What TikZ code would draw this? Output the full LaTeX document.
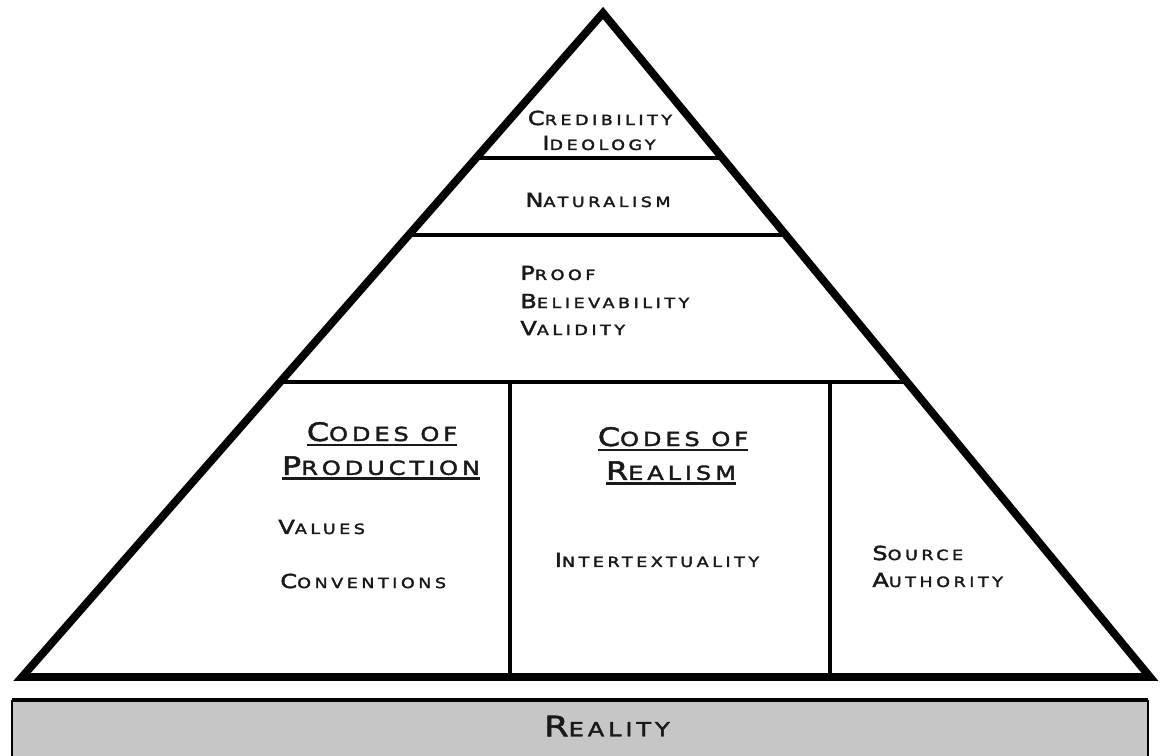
\documentclass[tikz,border=0pt]{standalone}
\usepackage{fontspec}
\usetikzlibrary{calc}
\newfontfamily\pyrfont[FakeStretch=1.25,LetterSpace=25,FakeBold=2.2]{DejaVu Sans}
\newfontfamily\headfont[FakeStretch=1.25,LetterSpace=20,FakeBold=2]{DejaVu Sans}
% small-caps style label: larger initial, smaller remainder
\newcommand\lbl[2]{{\fontsize{11}{13}\selectfont #1}{\fontsize{8}{10}\selectfont #2}}
\newcommand\hdr[2]{{\headfont{\fontsize{14.5}{17}\selectfont #1}{\fontsize{11}{13}\selectfont #2}}}
\newcommand\hdrline[1]{\setbox0\hbox{#1}\rlap{\rule[-2.8pt]{\wd0}{1.3pt}}\box0}
\definecolor{bargray}{RGB}{198,198,198}
\tikzset{
  outline/.style={line width=4.5pt, line join=miter},
  tier/.style={line width=2.8pt},
  divider/.style={line width=2.2pt},
  txt/.style={inner sep=0pt, font=\pyrfont, text=black!90},
  leftlist/.style={txt, align=left, anchor=west},
  heading/.style={txt, align=center},
}
\begin{document}
\begin{tikzpicture}[x=0.02cm, y=-0.02cm]
\useasboundingbox (0,0) rectangle (1160,755);
\fill[white] (0,0) rectangle (1160,755);

% pyramid corners
\coordinate (apex) at (603,13);
\coordinate (bl) at (22,677);
\coordinate (br) at (1150,677);

% tier boundaries on the two sides
\coordinate (l1) at ($(apex)!{(158-13)/664}!(bl)$);
\coordinate (r1) at ($(apex)!{(158-13)/664}!(br)$);
\coordinate (l2) at ($(apex)!{(235-13)/664}!(bl)$);
\coordinate (r2) at ($(apex)!{(235-13)/664}!(br)$);
\coordinate (l3) at ($(apex)!{(382-13)/664}!(bl)$);
\coordinate (r3) at ($(apex)!{(382-13)/664}!(br)$);

% column dividers in the lowest tier
\coordinate (v1t) at (510,382);
\coordinate (v1b) at (510,677);
\coordinate (v2t) at (830,382);
\coordinate (v2b) at (830,677);

% reality bar
\coordinate (barnw) at (12,700);
\coordinate (barse) at (1148,760);
\fill[bargray] (barnw) rectangle (barse);
\draw[line width=1.2pt] (barse |- barnw) -- (barse);
\draw[line width=1.2pt] (barnw) -- (barnw |- barse);
\draw[line width=2pt] (barnw) -- (barse |- barnw);

% tiers and columns
\draw[tier] (l1) -- (r1);
\draw[tier] (l2) -- (r2);
\draw[tier] (l3) -- (r3);
\draw[divider] (v1t) -- (v1b);
\draw[divider] (v2t) -- (v2b);

% outline
\draw[outline] (apex) -- (bl) -- (br) -- cycle;

% labels
\node[txt] (cred) at (600,118) {\lbl{C}{REDIBILITY}};
\node[txt] (ideo) at (599,143) {\lbl{I}{DEOLOGY}};
\node[txt] (nat) at (598,200) {\lbl{N}{ATURALISM}};

\node[leftlist] (proof) at (520,273) {\lbl{P}{ROOF}};
\node[leftlist] (believ) at (520,301) {\lbl{B}{ELIEVABILITY}};
\node[leftlist] (valid) at (520,328) {\lbl{V}{ALIDITY}};

\node[heading] (cp1) at (382,434) {\hdrline{\hdr{C}{ODES OF}}};
\node[heading] (cp2) at (381,468) {\hdrline{\hdr{P}{RODUCTION}}};
\node[leftlist] (values) at (278,527) {\lbl{V}{ALUES}};
\node[leftlist] (conv) at (280,581) {\lbl{C}{ONVENTIONS}};

\node[heading] (cr1) at (673,439) {\hdrline{\hdr{C}{ODES OF}}};
\node[heading] (cr2) at (671,473) {\hdrline{\hdr{R}{EALISM}}};
\node[txt] (inter) at (657,560) {\lbl{I}{NTERTEXTUALITY}};

\node[leftlist] (source) at (872,553) {\lbl{S}{OURCE}};
\node[leftlist] (auth) at (872,580) {\lbl{A}{UTHORITY}};

\node[txt] (reality) at (607,726) {{\headfont\fontsize{16}{19}\selectfont R}{\headfont\fontsize{11}{13}\selectfont EALITY}};
\end{tikzpicture}
\end{document}
